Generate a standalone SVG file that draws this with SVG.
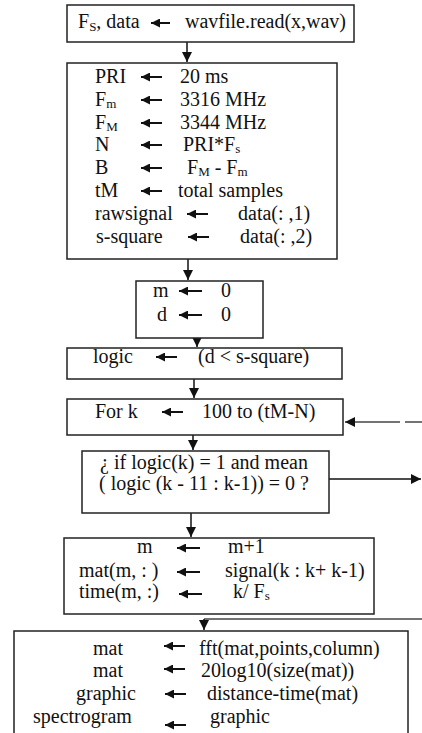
<svg xmlns="http://www.w3.org/2000/svg" width="422" height="733" viewBox="0 0 422 733">
<style>
.box{fill:#fff;stroke:#222;stroke-width:1.5}
text{font-family:"Liberation Serif","Times New Roman",serif;font-size:20px;fill:#111}
.sub{font-size:13px}
.c{stroke:#111;stroke-width:1.5;fill:none}
.ia{stroke:#111;stroke-width:2;fill:none}
.g{stroke:#444;stroke-width:1.5;fill:none}
</style>
<defs>
<marker id="ah" markerUnits="userSpaceOnUse" markerWidth="11" markerHeight="10" refX="10" refY="5" orient="auto">
<path d="M0,0 L10,5 L0,10 z" fill="#111"/>
</marker>
<marker id="ih" markerUnits="userSpaceOnUse" markerWidth="10" markerHeight="9" refX="9" refY="4.5" orient="auto">
<path d="M0,0 L9,4.5 L0,9 z" fill="#111"/>
</marker>
</defs>
<rect width="422" height="733" fill="#fff"/>

<g id="connectors">
<line class="c" x1="187" y1="42" x2="187" y2="62" marker-end="url(#ah)"/>
<line class="c" x1="188" y1="259" x2="188" y2="280" marker-end="url(#ah)"/>
<line class="c" x1="197" y1="338" x2="197" y2="347" marker-end="url(#ah)"/>
<line class="c" x1="194" y1="379" x2="194" y2="398" marker-end="url(#ah)"/>
<line class="c" x1="193" y1="435" x2="193" y2="450" marker-end="url(#ah)"/>
<line class="c" x1="191" y1="513" x2="191" y2="537" marker-end="url(#ah)"/>
<line class="g" x1="422" y1="619" x2="204" y2="619"/>
<line class="c" x1="204" y1="619" x2="204" y2="630" marker-end="url(#ah)"/>
<line class="g" x1="422" y1="422" x2="405" y2="422"/>
<line class="g" x1="400" y1="422" x2="345" y2="422" marker-end="url(#ah)"/>
<line class="c" x1="329" y1="479" x2="421" y2="479" marker-end="url(#ah)"/>
</g>

<g id="n1">
<rect class="box" x="67" y="5" width="287" height="37"/>
<text x="78" y="28">F<tspan class="sub" font-size="15" dy="3">S</tspan><tspan dy="-3">, data</tspan></text>
<line class="ia" x1="170" y1="23" x2="151" y2="23" marker-end="url(#ih)"/>
<text x="185" y="28">wavfile.read(x,wav)</text>
</g>

<g id="n2">
<rect class="box" x="67" y="63" width="270" height="196"/>
<text x="95" y="83">PRI</text>
<line class="ia" x1="162" y1="77" x2="141" y2="77" marker-end="url(#ih)"/>
<text x="180" y="83">20 ms</text>
<text x="95" y="106">F<tspan class="sub" dy="2">m</tspan></text>
<line class="ia" x1="162" y1="100" x2="141" y2="100" marker-end="url(#ih)"/>
<text x="180" y="106">3316 MHz</text>
<text x="95" y="129">F<tspan class="sub" dy="2">M</tspan></text>
<line class="ia" x1="162" y1="123" x2="141" y2="123" marker-end="url(#ih)"/>
<text x="180" y="129">3344 MHz</text>
<text x="95" y="151">N</text>
<line class="ia" x1="162" y1="145" x2="141" y2="145" marker-end="url(#ih)"/>
<text x="183" y="151">PRI*F<tspan class="sub" dy="2">s</tspan></text>
<text x="95" y="174">B</text>
<line class="ia" x1="162" y1="168" x2="141" y2="168" marker-end="url(#ih)"/>
<text x="187" y="174">F<tspan class="sub" dy="2">M</tspan><tspan dy="-2"> - F</tspan><tspan class="sub" dy="2">m</tspan></text>
<text x="95" y="197">tM</text>
<line class="ia" x1="162" y1="191" x2="141" y2="191" marker-end="url(#ih)"/>
<text x="178" y="197">total samples</text>
<text x="95" y="220">rawsignal</text>
<line class="ia" x1="208" y1="214" x2="187" y2="214" marker-end="url(#ih)"/>
<text x="238" y="220">data(: ,1)</text>
<text x="96" y="243">s-square</text>
<line class="ia" x1="209" y1="237" x2="188" y2="237" marker-end="url(#ih)"/>
<text x="240" y="243">data(: ,2)</text>
</g>

<g id="n3">
<rect class="box" x="136" y="281" width="127" height="57"/>
<text x="153" y="297">m</text>
<line class="ia" x1="202" y1="291" x2="179" y2="291" marker-end="url(#ih)"/>
<text x="221" y="297">0</text>
<text x="157" y="321">d</text>
<line class="ia" x1="202" y1="315" x2="179" y2="315" marker-end="url(#ih)"/>
<text x="221" y="321">0</text>
</g>

<g id="n4">
<rect class="box" x="67" y="348" width="275" height="31"/>
<text x="93" y="363">logic</text>
<line class="ia" x1="177" y1="357" x2="156" y2="357" marker-end="url(#ih)"/>
<text x="198" y="363">(d &lt; s-square)</text>
</g>

<g id="n5">
<rect class="box" x="67" y="399" width="276" height="36"/>
<text x="95" y="418">For k</text>
<line class="ia" x1="183" y1="412" x2="162" y2="412" marker-end="url(#ih)"/>
<text x="202" y="418">100 to (tM-N)</text>
</g>

<g id="n6">
<rect class="box" x="82" y="451" width="247" height="62"/>
<text x="204" y="469" text-anchor="middle">¿ if logic(k) = 1 and mean</text>
<text x="204" y="490" text-anchor="middle">( logic (k - 11 : k-1)) = 0 ?</text>
</g>

<g id="n7">
<rect class="box" x="64" y="538" width="310" height="76"/>
<text x="137" y="553">m</text>
<line class="ia" x1="200" y1="548" x2="177" y2="548" marker-end="url(#ih)"/>
<text x="228" y="553">m+1</text>
<text x="79" y="577">mat(m, : )</text>
<line class="ia" x1="200" y1="572" x2="177" y2="572" marker-end="url(#ih)"/>
<text x="225" y="577">signal(k : k+ k-1)</text>
<text x="79" y="598">time(m, :)</text>
<line class="ia" x1="202" y1="594" x2="179" y2="594" marker-end="url(#ih)"/>
<text x="233" y="598">k/ F<tspan class="sub" dy="2">s</tspan></text>
</g>

<g id="n8">
<rect class="box" x="14" y="631" width="394" height="115"/>
<text x="93" y="655">mat</text>
<line class="ia" x1="185" y1="646" x2="164" y2="646" marker-end="url(#ih)"/>
<text x="199" y="655">fft(mat,points,column)</text>
<text x="93" y="677">mat</text>
<line class="ia" x1="185" y1="669" x2="164" y2="669" marker-end="url(#ih)"/>
<text x="201" y="677">20log10(size(mat))</text>
<text x="76" y="700">graphic</text>
<line class="ia" x1="186" y1="694" x2="165" y2="694" marker-end="url(#ih)"/>
<text x="207" y="700">distance-time(mat)</text>
<text x="33" y="723">spectrogram</text>
<line class="ia" x1="186" y1="725" x2="165" y2="725" marker-end="url(#ih)"/>
<text x="210" y="723">graphic</text>
</g>
</svg>
